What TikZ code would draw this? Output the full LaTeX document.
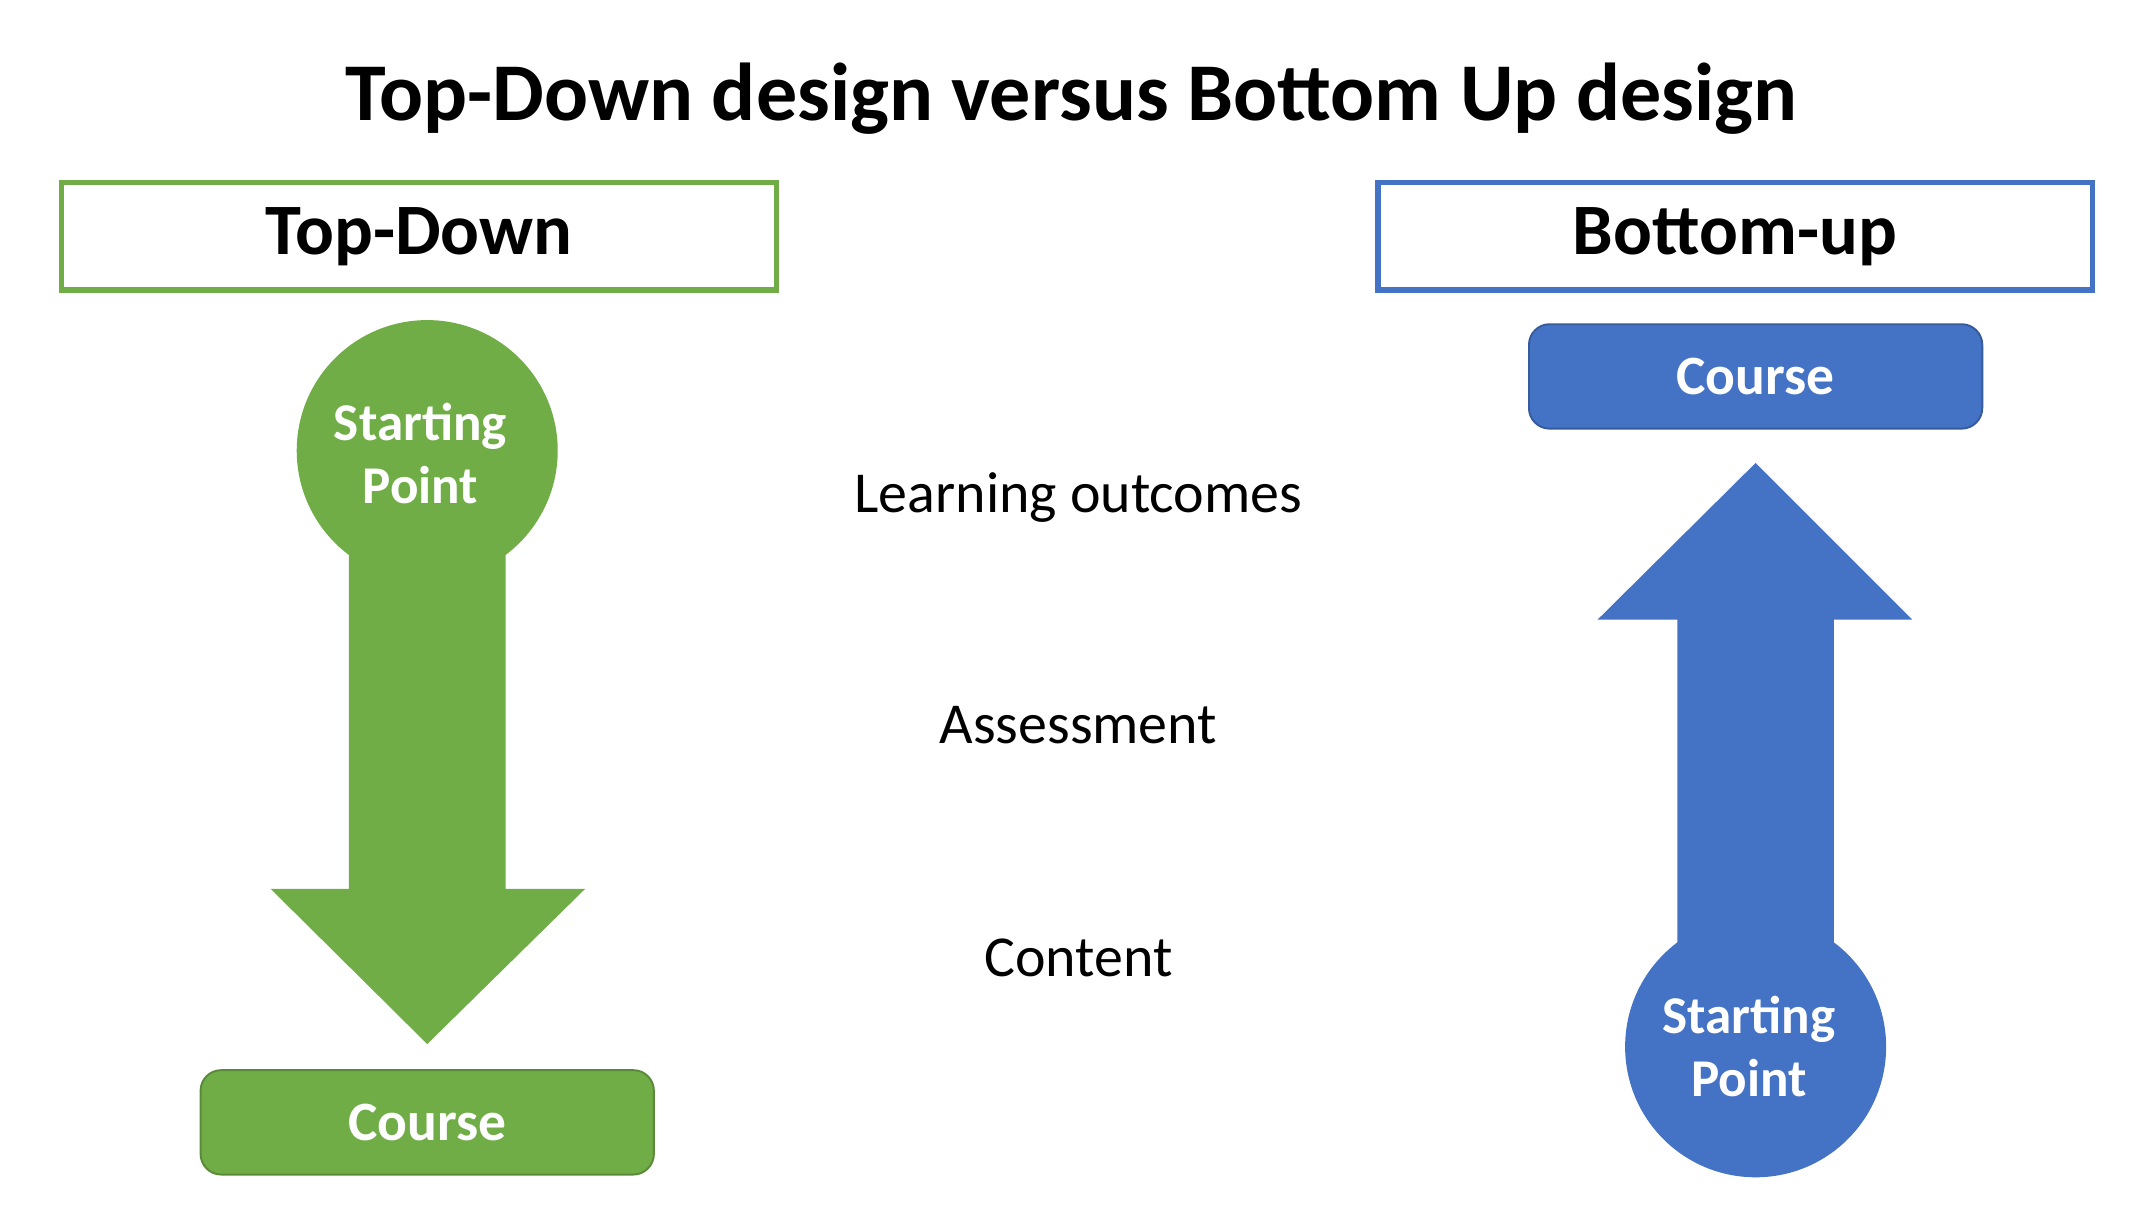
\documentclass[tikz,border=0pt]{standalone}
\usepackage{fontspec}
\setmainfont{Carlito}
\definecolor{gr}{HTML}{70AD47}
\definecolor{bl}{HTML}{4472C4}
\begin{document}
\begin{tikzpicture}[x=0.1mm,y=-0.1mm,
  hdr/.style={draw=#1,line width=1.1pt,fill=white,minimum width=52mm,minimum height=7.8mm,font=\fontsize{15}{18}\selectfont\bfseries},
  crs/.style={fill=#1,draw=#1!80!black,rounded corners=1.5mm,minimum width=33mm,minimum height=7.6mm,text=white,font=\fontsize{11.5}{14}\selectfont\bfseries},
  lbl/.style={font=\fontsize{12}{14}\selectfont},
  sp/.style={text=white,align=center,font=\fontsize{11}{13}\selectfont\bfseries}]
\useasboundingbox (0,0) rectangle (1568,881.5);
\node[font=\fontsize{17}{20}\selectfont\bfseries] (title) at (780,72) {Top-Down design versus Bottom Up design};
\node[hdr=gr] (td) at (305,172) {Top-Down};
\node[hdr=bl] (bu) at (1263,172) {Bottom-up};
% green arrow
\fill[gr] (311,328) circle (95);
\fill[gr] (254,390) -- (254,647) -- (197,647) -- (311,760) -- (426,647) -- (368,647) -- (368,390) -- cycle;
\node[sp] (spg) at (306,330) {Starting\\Point};
\node[crs=gr] (cg) at (311,817) {Course};
% blue arrow
\fill[bl] (1278,762) circle (95);
\fill[bl] (1221,700) -- (1221,451) -- (1163,451) -- (1278,337) -- (1392,451) -- (1335,451) -- (1335,700) -- cycle;
\node[sp] (spb) at (1273,762) {Starting\\Point};
\node[crs=bl] (cb) at (1278,274) {Course};
% middle
\node[lbl] (lo) at (785,362) {Learning outcomes};
\node[lbl] (as) at (785,528) {Assessment};
\node[lbl] (co) at (785,697) {Content};
\end{tikzpicture}
\end{document}
